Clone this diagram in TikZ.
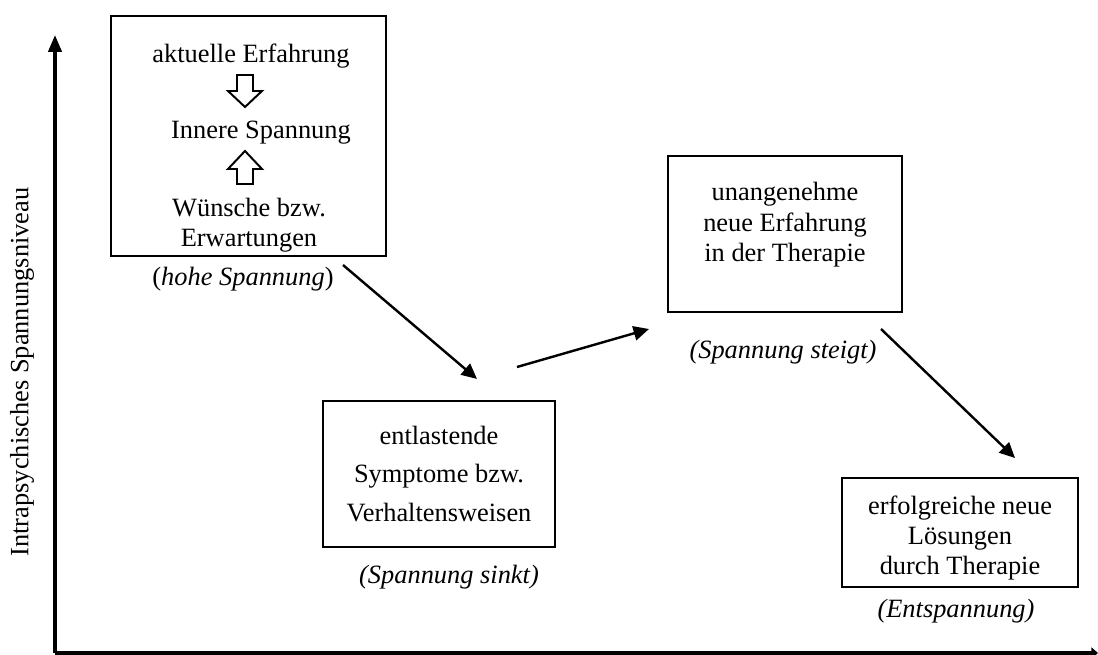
\documentclass[tikz,border=0pt]{standalone}
\usepackage{fontspec}
\setmainfont{Liberation Serif}
\usetikzlibrary{arrows.meta}
\begin{document}
\begin{tikzpicture}[x=0.4545pt, y=-0.4545pt,
    every node/.style={font=\fontsize{12}{13.8}\selectfont, align=center, inner sep=0pt},
    kasten/.style={draw, line width=1.2pt},
    pfeil/.style={line width=1.1pt, -{Triangle[length=7pt,width=6.5pt]}},
    hohlpfeil/.style={line width=0.9pt, fill=white}]
    \useasboundingbox (0,0) rectangle (1098,655);
    % Achsen
    \coordinate (ursprung) at (55,653);
    \coordinate (yende) at (55,35);
    \coordinate (xende) at (1098,653);
    \draw[line width=1.6pt, -{Triangle[length=7.7pt,width=6pt]}] (ursprung)--(yende);
    \draw[line width=1.6pt, -{Triangle[length=3pt,width=5pt]}] (ursprung)--(xende);
    \node[rotate=90] (achse) at (22,372) {Intrapsychisches Spannungsniveau};
    % Kaesten
    \node[kasten, minimum width=125pt, minimum height=109pt] (hoch) at (248.5,136) {};
    \node[anchor=base] (erf) at (251,63) {aktuelle Erfahrung};
    \node[anchor=base] (inner) at (261,139) {Innere Spannung};
    \node (wuensche) at (249,225) {Wünsche bzw.\\Erwartungen};
    \draw[hohlpfeil] (237,75)--(253,75)--(253,91)--(262,91)--(245,107)--(228,91)--(237,91)--cycle;
    \draw[hohlpfeil] (245,151)--(262,169)--(253,169)--(253,184)--(237,184)--(237,169)--(228,169)--cycle;
    \node[kasten, minimum width=105.5pt, minimum height=66.4pt,
          font=\fontsize{12}{17.5}\selectfont] (symptome) at (439,474)
          {entlastende\\Symptome bzw.\\Verhaltensweisen};
    \node[kasten, minimum width=106.4pt, minimum height=70.9pt] (therapie) at (785,234) {};
    \node (unang) at (785,225) {unangenehme\\neue Erfahrung\\in der Therapie};
    \node[kasten, minimum width=107.3pt, minimum height=49.5pt] (loesung) at (960,532.5) {};
    \node (erfolg) at (960,538) {erfolgreiche neue\\Lösungen\\durch Therapie};
    % Beschriftungen
    \node[anchor=base] (hohe) at (243,286) {(\textit{hohe Spannung})};
    \node[anchor=base] (sinkt) at (449,583) {\textit{(Spannung sinkt)}};
    \node[anchor=base] (steigt) at (783,358) {\textit{(Spannung steigt)}};
    \node[anchor=base] (entsp) at (956,617) {\textit{(Entspannung)}};
    % Pfeile
    \coordinate (p1a) at (343,265);
    \coordinate (p1b) at (477,379);
    \coordinate (p2a) at (517,367);
    \coordinate (p2b) at (649,329);
    \coordinate (p3a) at (881,329);
    \coordinate (p3b) at (1015,458);
    \draw[pfeil] (p1a)--(p1b);
    \draw[pfeil] (p2a)--(p2b);
    \draw[pfeil] (p3a)--(p3b);
\end{tikzpicture}
\end{document}
